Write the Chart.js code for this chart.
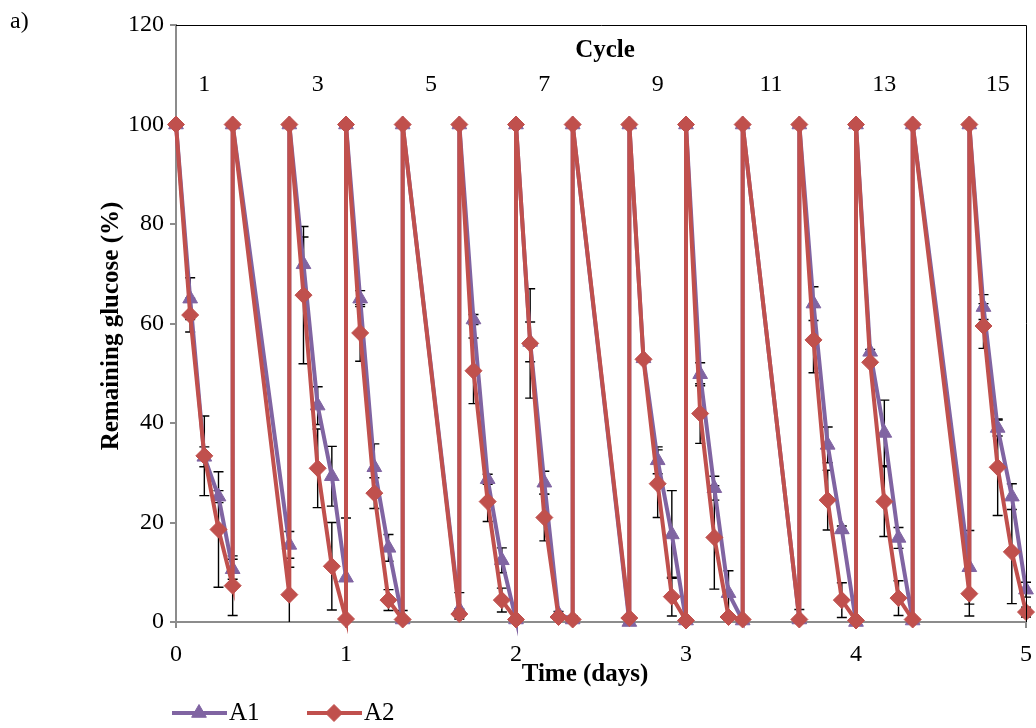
<!DOCTYPE html>
<html>
<head>
<meta charset="utf-8">
<title>Remaining glucose</title>
<script src="https://cdn.jsdelivr.net/npm/chart.js@4.4.1/dist/chart.umd.min.js"></script>
<style>
  html, body { margin: 0; padding: 0; background: #fff; }
  #wrap { width: 1036px; height: 728px; }
</style>
</head>
<body>
<div id="wrap"><canvas id="glucoseChart"></canvas></div>
<script>
// sampling times in hours; a repeated hour is the refill back to 100 %
const hours = [0, 2, 4, 6, 8, 8, 16, 16, 18, 20, 22, 24, 24, 26, 28, 30, 32, 32,
  40, 40, 42, 44, 46, 48, 48, 50, 52, 54, 56, 56, 64, 64, 66, 68, 70, 72, 72,
  74, 76, 78, 80, 80, 88, 88, 90, 92, 94, 96, 96, 98, 100, 102, 104, 104,
  112, 112, 114, 116, 118, 120];

const a1 = [100, 65.0, 33.2, 25.2, 10.6, 100, 15.5, 100, 71.9, 43.5, 29.3, 8.9, 100,
  65.0, 31.1, 14.9, 0.5, 100, 2.5, 100, 60.8, 28.7, 12.4, 0.5, 100,
  56.3, 28.0, 1.6, 0.5, 100, 0.0, 100, 53.0, 32.5, 17.6, 0.3, 100,
  49.8, 26.9, 5.8, 0.3, 100, 0.5, 100, 64.0, 35.6, 18.6, 0.0, 100,
  54.3, 38.0, 16.9, 0.3, 100, 11.0, 100, 63.3, 39.0, 25.2, 6.5];
const a1Err = [0, 4.2, 2.0, 1.2, 2.0, 0, 2.7, 0, 5.5, 3.8, 6.0, 12.0, 0,
  1.6, 4.7, 2.7, 1.8, 0, 3.4, 0, 1.0, 1.0, 2.5, 0.5, 0,
  4.0, 2.3, 0.5, 0.7, 0, 0.5, 0, 0, 2.7, 8.8, 0.5, 0,
  2.3, 2.4, 4.5, 0.5, 0, 2.0, 0, 3.4, 3.6, 0.7, 0.5, 0,
  0.5, 6.6, 2.1, 0.5, 0, 7.4, 0, 2.5, 1.6, 2.6, 1.5];

const a2 = [100, 61.7, 33.4, 18.6, 7.3, 100, 5.5, 100, 65.7, 30.9, 11.2, 0.6, 100,
  58.1, 25.9, 4.4, 0.5, 100, 1.6, 100, 50.5, 24.2, 4.4, 0.5, 100,
  56.0, 21.0, 1.0, 0.5, 100, 0.8, 100, 52.8, 27.8, 5.1, 0.3, 100,
  41.9, 17.0, 1.0, 0.5, 100, 0.5, 100, 56.7, 24.5, 4.4, 0.3, 100,
  52.2, 24.2, 4.8, 0.5, 100, 5.7, 100, 59.5, 31.1, 14.1, 2.0];
const a2Err = [0, 3.4, 8.0, 11.6, 6.0, 0, 5.5, 0, 13.8, 7.9, 8.8, 0.5, 0,
  5.7, 3.1, 2.1, 0.5, 0, 1.0, 0, 6.6, 4.0, 2.4, 0.5, 0,
  11.0, 4.7, 0.5, 0.5, 0, 0.5, 0, 0, 6.8, 3.9, 0.5, 0,
  6.0, 10.4, 0.5, 0.5, 0, 0.5, 0, 6.6, 6.0, 3.5, 0.5, 0,
  0.5, 7.0, 3.5, 0.5, 0, 4.5, 0, 4.5, 9.7, 10.4, 1.0];

// cycle numbers written above the curves, at the middle of each cycle
const cycleLabels = ["1", "3", "5", "7", "9", "11", "13", "15"];
const cycleMidHours = [4, 20, 36, 52, 68, 84, 100, 116];

const serif = "'Liberation Serif', 'Times New Roman', serif";

function points(values) {
  return values.map((v, i) => ({ x: hours[i] / 24, y: v }));
}

const errorSets = [a1Err, a2Err];

const decorations = {
  id: "decorations",
  beforeDatasetsDraw(chart) {
    const ctx = chart.ctx;
    const y = chart.scales.y;
    ctx.save();
    ctx.strokeStyle = "#000";
    ctx.lineWidth = 1.4;
    chart.data.datasets.forEach((ds, d) => {
      const meta = chart.getDatasetMeta(d);
      const errs = errorSets[ds.errIndex];
      meta.data.forEach((pt, i) => {
        const e = errs[i];
        if (!e) return;
        const v = ds.data[i].y;
        const top = y.getPixelForValue(v + e);
        const bot = y.getPixelForValue(Math.max(0, v - e));
        ctx.beginPath();
        ctx.moveTo(pt.x, top);
        ctx.lineTo(pt.x, bot);
        ctx.moveTo(pt.x - 5, top);
        ctx.lineTo(pt.x + 5, top);
        if (v - e > 0) {
          ctx.moveTo(pt.x - 5, bot);
          ctx.lineTo(pt.x + 5, bot);
        }
        ctx.stroke();
      });
    });
    ctx.restore();
  },
  afterDraw(chart) {
    const ctx = chart.ctx;
    const area = chart.chartArea;
    const x = chart.scales.x;
    ctx.save();

    // thin frame on top and right
    ctx.strokeStyle = "#000";
    ctx.lineWidth = 1;
    ctx.beginPath();
    ctx.moveTo(area.left, area.top + 0.5);
    ctx.lineTo(area.right + 0.5, area.top + 0.5);
    ctx.lineTo(area.right + 0.5, area.bottom);
    ctx.stroke();

    ctx.fillStyle = "#000";
    ctx.textBaseline = "middle";

    ctx.textAlign = "left";
    ctx.font = "24px " + serif;
    ctx.fillText("a)", 10, 22);

    ctx.textAlign = "center";
    ctx.font = "bold 25px " + serif;
    ctx.fillText("Cycle", 605, 51);
    ctx.fillText("Time (days)", 585, 675);

    ctx.font = "24px " + serif;
    cycleLabels.forEach((lab, i) => {
      ctx.fillText(lab, x.getPixelForValue(cycleMidHours[i] / 24), 85);
    });

    ctx.save();
    ctx.translate(112, 326);
    ctx.rotate(-Math.PI / 2);
    ctx.font = "bold 25px " + serif;
    ctx.fillText("Remaining glucose (%)", 0, 0);
    ctx.restore();

    // legend: line with marker, then the name
    const items = [
      { ds: chart.data.datasets[1], x0: 172 },
      { ds: chart.data.datasets[0], x0: 307 }
    ];
    const ly = 713;
    items.forEach(it => {
      const ds = it.ds;
      ctx.strokeStyle = ds.borderColor;
      ctx.fillStyle = ds.backgroundColor;
      ctx.lineWidth = 4;
      ctx.beginPath();
      ctx.moveTo(it.x0, ly);
      ctx.lineTo(it.x0 + 55, ly);
      ctx.stroke();
      ctx.lineWidth = 1;
      Chart.helpers.drawPoint(ctx, {
        pointStyle: ds.pointStyle, radius: ds.pointRadius, rotation: 0, borderWidth: 1
      }, it.x0 + 27, ly);
      ctx.fillStyle = "#000";
      ctx.textAlign = "left";
      ctx.font = "25px " + serif;
      ctx.fillText(ds.label, it.x0 + 57, ly);
    });
    ctx.restore();
  }
};

const axisGrid = {
  display: true,
  drawOnChartArea: false,
  drawTicks: true,
  tickLength: 6,
  color: "#8c8c8c",
  lineWidth: 2
};

new Chart(document.getElementById("glucoseChart"), {
  type: "line",
  data: {
    datasets: [
      {
        label: "A2",
        data: points(a2),
        errIndex: 1,
        borderColor: "#c0504d",
        backgroundColor: "#c0504d",
        borderWidth: 4,
        pointStyle: "rectRot",
        pointRadius: 8.5,
        pointBorderWidth: 1,
        tension: 0,
        clip: false
      },
      {
        label: "A1",
        data: points(a1),
        errIndex: 0,
        borderColor: "#8064a2",
        backgroundColor: "#8064a2",
        borderWidth: 4,
        pointStyle: "triangle",
        pointRadius: 8.5,
        pointBorderWidth: 1,
        tension: 0,
        clip: false
      }
    ]
  },
  options: {
    responsive: true,
    maintainAspectRatio: false,
    animation: false,
    layout: { padding: { left: 0, right: 10, top: 25, bottom: 0 } },
    plugins: {
      legend: { display: false },
      tooltip: { enabled: false }
    },
    scales: {
      x: {
        type: "linear",
        min: 0,
        max: 5,
        grid: axisGrid,
        border: { color: "#8c8c8c", width: 2 },
        ticks: { stepSize: 1, padding: 12, color: "#000", font: { family: serif, size: 24 } },
        afterFit(scale) {
          scale.height = 106;
          // the "5" label may hang past the plot edge
          scale.paddingLeft = 0;
          scale.paddingRight = 0;
        }
      },
      y: {
        min: 0,
        max: 120,
        grid: axisGrid,
        border: { color: "#8c8c8c", width: 2 },
        ticks: { stepSize: 20, padding: 6, color: "#000", font: { family: serif, size: 24 } },
        afterFit(scale) { scale.width = 176; }
      }
    }
  },
  plugins: [decorations]
});
</script>
</body>
</html>
